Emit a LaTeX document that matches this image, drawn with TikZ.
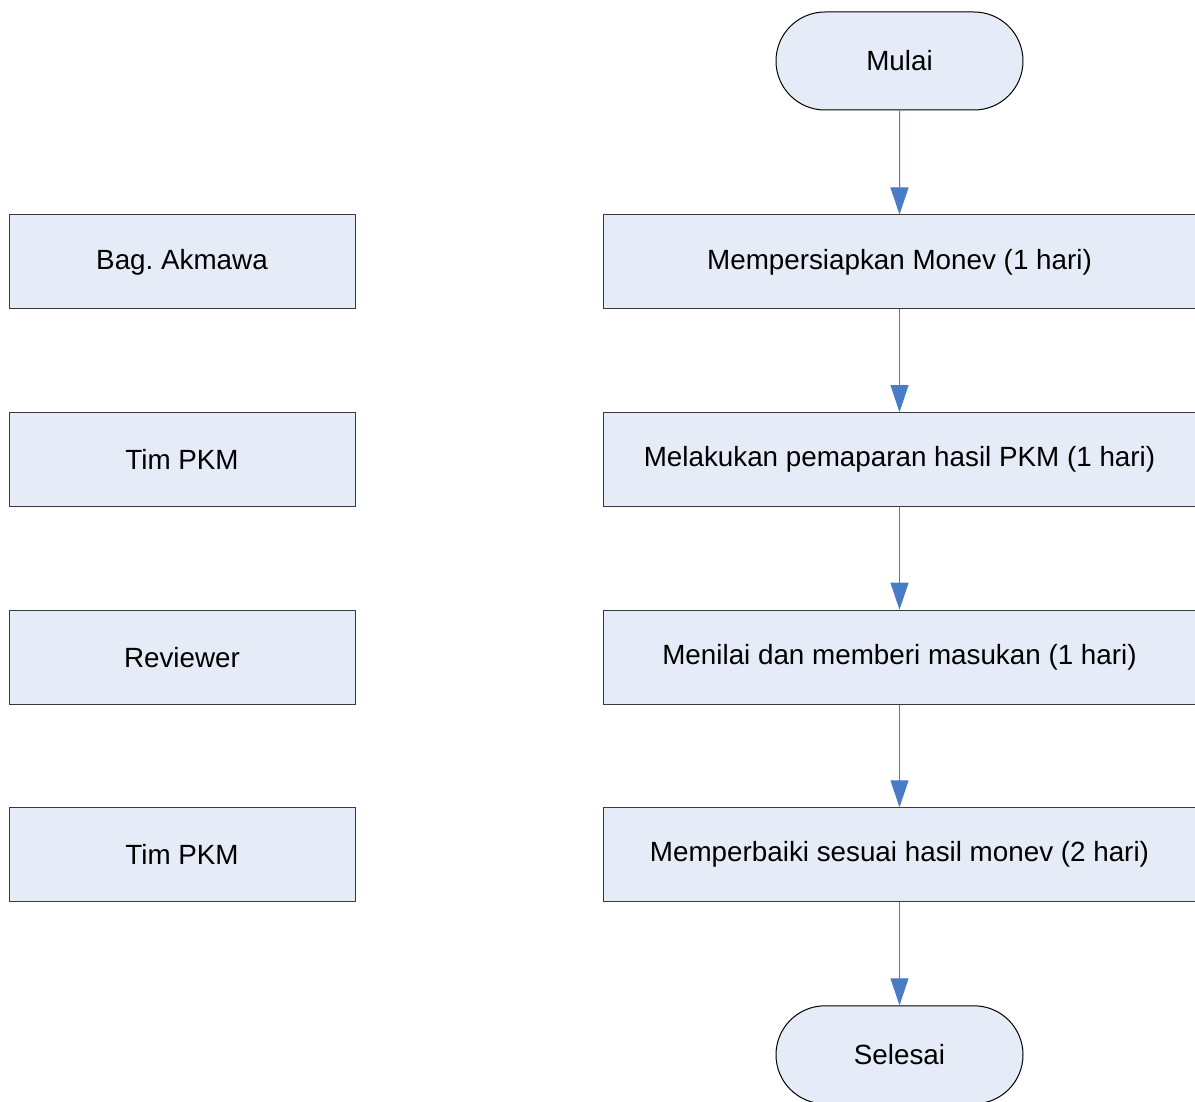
\documentclass[tikz,border=0pt]{standalone}
\usepackage{fontspec}
\setmainfont{Liberation Sans}
\usetikzlibrary{arrows.meta,positioning,shapes.misc}
\definecolor{flowfill}{HTML}{E6ECF7}
\definecolor{flowline}{HTML}{3A3A3A}
\definecolor{flowarrow}{HTML}{4A7CC6}
\tikzset{
  task/.style={draw=flowline, fill=flowfill, line width=1pt, align=center, minimum width=593pt, minimum height=94pt, inner sep=0pt},
  actor/.style={draw=flowline, fill=flowfill, line width=1pt, align=center, minimum width=346pt, minimum height=94pt, inner sep=0pt},
  term/.style={draw=black, fill=flowfill, line width=1pt, rounded rectangle, minimum width=247pt, minimum height=98pt, inner sep=0pt},
  arr/.style={-{Triangle[length=27pt,width=18pt]}, line width=1pt, color=flowarrow},
}

\begin{document}
\begin{tikzpicture}[x=1pt,y=1pt,font=\fontsize{27.8}{33}\selectfont, node distance=102.6pt]
      \clip (0,0) rectangle (1195,-1102);
      \node[term] (start) at (899.5,-61) {Mulai};
      \node[task, below=104pt of start] (prep) {Mempersiapkan Monev (1 hari)};
      \node[task, below=of prep] (show) {Melakukan pemaparan hasil PKM (1 hari)};
      \node[task, below=of show] (rate) {Menilai dan memberi masukan (1 hari)};
      \node[task, below=of rate] (fix) {Memperbaiki sesuai hasil monev (2 hari)};
      \node[term, below=103pt of fix] (stop) {Selesai};
      \node[actor, left=247pt of prep] (who1) {Bag.\ Akmawa};
      \node[actor, left=247pt of show] (who2) {Tim PKM};
      \node[actor, left=247pt of rate] (who3) {Reviewer};
      \node[actor, left=247pt of fix] (who4) {Tim PKM};
      \draw[arr] (start) -- (prep); \draw[arr] (prep) -- (show); \draw[arr] (show) -- (rate);
      \draw[arr] (rate) -- (fix); \draw[arr] (fix) -- (stop);
    \end{tikzpicture}
\end{document}
